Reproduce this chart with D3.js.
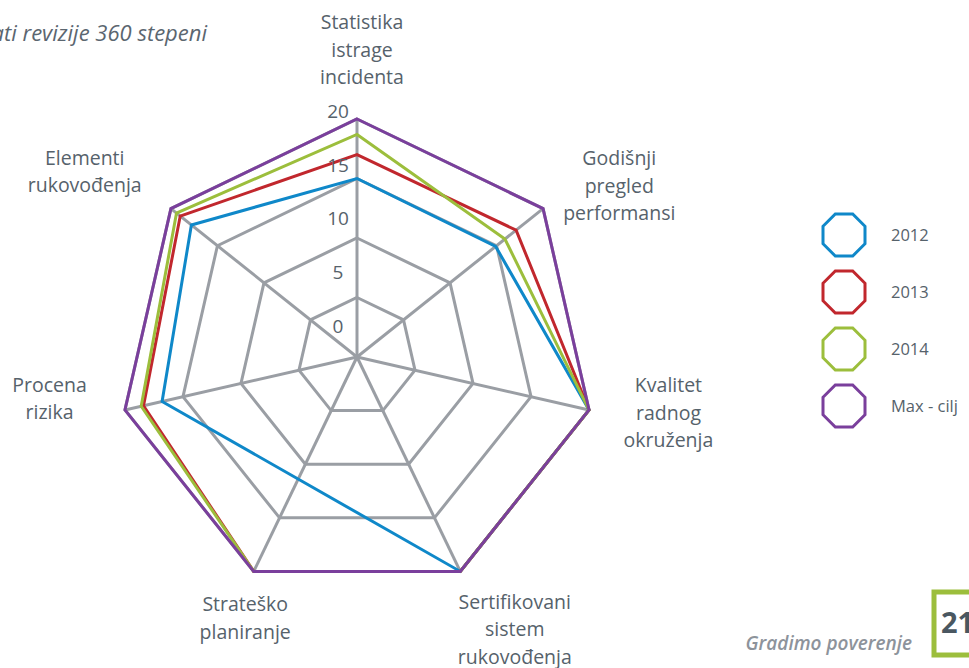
<!DOCTYPE html>
<html lang="sr">
<head>
    <meta charset="UTF-8">
    <title>Rezultati revizije 360 stepeni</title>
    <script src="https://d3js.org/d3.v7.min.js"></script>
    <style type="text/css">
        body {
            margin: 0;
            background: #fff;
            font-family: "Open Sans", "Noto Sans", sans-serif;
        }
        .grid { fill: none; stroke: #9a9ea4; stroke-width: 3; }
        .series { fill: none; stroke-width: 3; stroke-linejoin: miter; }
        .axis-label, .tick-label, .legend-label { fill: #56626b; }
    </style>
</head>
<body>
    <div id="chart"></div>
    <script type="text/javascript">
        // podaci sa grafikona
        var categories = [
            ['Statistika', 'istrage', 'incidenta'],
            ['Godišnji', 'pregled', 'performansi'],
            ['Kvalitet', 'radnog', 'okruženja'],
            ['Sertifikovani', 'sistem', 'rukovođenja'],
            ['Strateško', 'planiranje'],
            ['Procena', 'rizika'],
            ['Elementi', 'rukovođenja']
        ];
        var seriesNames = ['2012', '2013', '2014', 'Max - cilj'];
        var values2012 = [15, 14.9, 20, 20, null, 16.8, 17.8];
        var values2013 = [17, 17.1, 20, 20, 20, 18.4, 19];
        var values2014 = [18.7, 15.9, 20, 20, 20, 18.6, 19.4];
        var valuesMax = [20, 20, 20, 20, 20, 20, 20];
        var ticks = [0, 5, 10, 15, 20];

        var colors = ['#0f88c9', '#c1272d', '#9cbe3c', '#7a3f9c'];
        var allSeries = [values2012, values2013, values2014, valuesMax];

        var w = 969, h = 668;
        var cx = 357, cy = 357, R = 238;

        var svg = d3.select('#chart').append('svg')
            .attr('width', w)
            .attr('height', h);

        var n = categories.length;
        var angle = d3.scaleLinear().domain([0, n]).range([0, 2 * Math.PI]);
        var rScale = d3.scaleLinear().domain([0, 20]).range([0, R]);
        // polozaj oznaka vrednosti na osi (kao u originalu)
        var tickY = d3.scaleLinear().domain([0, 20]).range([326, 111.5]);

        var g = svg.append('g').attr('transform', 'translate(' + cx + ',' + cy + ')');

        function pt(i, v) {
            var a = angle(i), r = rScale(v);
            return [r * Math.sin(a), -r * Math.cos(a)];
        }

        // mreza
        ticks.filter(function (t) { return t > 0; }).forEach(function (t) {
            g.append('path')
                .attr('class', 'grid')
                .attr('d', d3.line()(d3.range(n).map(function (i) { return pt(i, t); })) + 'Z');
        });
        d3.range(n).forEach(function (i) {
            var p = pt(i, 20);
            g.append('line')
                .attr('class', 'grid')
                .attr('x1', 0).attr('y1', 0)
                .attr('x2', p[0]).attr('y2', p[1]);
        });

        // oznake vrednosti
        svg.selectAll('.tick-label')
            .data(ticks)
            .enter()
            .append('text')
            .attr('class', 'tick-label')
            .attr('x', 338)
            .attr('y', function (d) { return tickY(d); })
            .attr('dy', '0.35em')
            .attr('text-anchor', 'middle')
            .style('font-size', '19px')
            .text(function (d) { return d; });

        // serije (prazne vrednosti se preskacu)
        allSeries.forEach(function (vals, s) {
            var pts = [];
            vals.forEach(function (v, i) {
                if (v !== null) pts.push(pt(i, v));
            });
            g.append('path')
                .attr('class', 'series')
                .attr('stroke', colors[s])
                .attr('d', d3.line()(pts) + 'Z');
        });

        // nazivi osa
        var labelShift = [[5, -47], [59, -9], [58, -2], [45, 38], [1, 27], [-54, -16], [-69, -23]];
        var lineH = 27.5;
        categories.forEach(function (lines, i) {
            var a = angle(i), r = R + 22;
            var x = cx + r * Math.sin(a) + labelShift[i][0];
            var y = cy - r * Math.cos(a) + labelShift[i][1];
            var t = svg.append('text')
                .attr('class', 'axis-label')
                .attr('text-anchor', 'middle')
                .style('font-size', '19.5px');
            lines.forEach(function (ln, k) {
                t.append('tspan')
                    .attr('x', x)
                    .attr('y', y + (k - (lines.length - 1) / 2) * lineH)
                    .attr('dy', '0.35em')
                    .text(ln);
            });
        });

        // legenda
        var octagon = d3.range(8).map(function (k) {
            var a = Math.PI / 8 + k * Math.PI / 4;
            var rr = 21 / Math.cos(Math.PI / 8);
            return [rr * Math.cos(a), rr * Math.sin(a)];
        });
        var legend = svg.selectAll('.legend')
            .data(seriesNames)
            .enter()
            .append('g')
            .attr('class', 'legend')
            .attr('transform', function (d, i) { return 'translate(844,' + (235 + i * 57) + ')'; });
        legend.append('path')
            .attr('d', d3.line()(octagon) + 'Z')
            .attr('fill', 'none')
            .attr('stroke-width', 3)
            .attr('stroke', function (d, i) { return colors[i]; });
        legend.append('text')
            .attr('class', 'legend-label')
            .attr('x', 47)
            .attr('dy', '0.35em')
            .style('font-size', '16.5px')
            .text(function (d) { return d; });

        // naslov i podnozje strane
        svg.append('text')
            .attr('x', 207).attr('y', 33)
            .attr('dy', '0.35em')
            .attr('text-anchor', 'end')
            .attr('fill', '#5b6670')
            .style('font-size', '22px')
            .style('font-style', 'italic')
            .text('Rezultati revizije 360 stepeni');

        svg.append('text')
            .attr('x', 912).attr('y', 643)
            .attr('dy', '0.35em')
            .attr('text-anchor', 'end')
            .attr('fill', '#8d939b')
            .style('font-size', '19px')
            .style('font-style', 'italic')
            .style('font-weight', 600)
            .text('Gradimo poverenje');

        svg.append('rect')
            .attr('x', 934).attr('y', 592)
            .attr('width', 62).attr('height', 63)
            .attr('fill', 'none')
            .attr('stroke', '#9cbe3c')
            .attr('stroke-width', 5);
        svg.append('text')
            .attr('x', 941).attr('y', 623)
            .attr('dy', '0.35em')
            .attr('fill', '#4a5761')
            .style('font-size', '29px')
            .style('font-weight', 700)
            .text('21');
    </script>
</body>
</html>
